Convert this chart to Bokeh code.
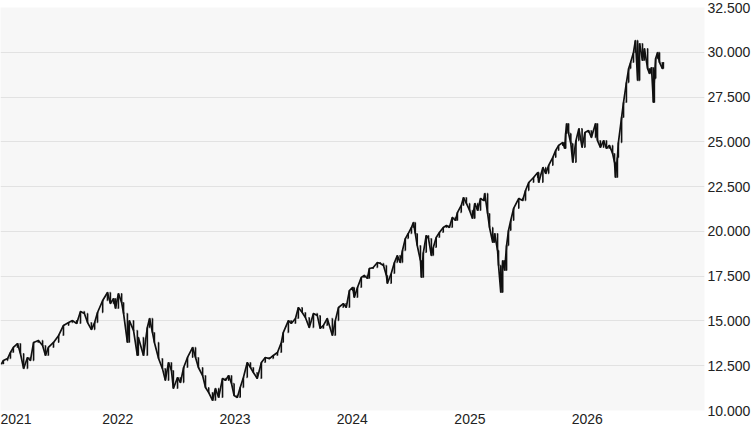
import pandas as pd
from bokeh.plotting import figure
from bokeh.models import FixedTicker, CustomJSTickFormatter, ColumnDataSource, Range1d
from bokeh.embed import file_html
from bokeh.resources import INLINE

# ---- data (approximate closes) ----
dates = [
    "2021-01-04", "2021-01-10", "2021-01-23", "2021-02-01", "2021-02-10", "2021-02-23", "2021-03-04",
    "2021-03-14", "2021-03-26", "2021-04-04", "2021-04-14", "2021-04-29", "2021-05-12", "2021-05-21",
    "2021-05-30", "2021-06-15", "2021-07-01", "2021-07-16", "2021-08-01", "2021-08-13", "2021-08-26",
    "2021-09-07", "2021-09-19", "2021-09-29", "2021-10-11", "2021-10-21", "2021-10-30", "2021-11-15",
    "2021-11-30", "2021-12-09", "2021-12-19", "2021-12-25",
    "2022-01-03", "2022-01-13", "2022-01-19", "2022-01-31", "2022-02-06", "2022-02-19", "2022-03-03",
    "2022-03-06", "2022-03-22", "2022-04-03", "2022-04-10", "2022-04-19", "2022-04-25", "2022-05-08",
    "2022-05-20", "2022-05-29", "2022-06-08", "2022-06-17", "2022-06-23", "2022-07-06", "2022-07-15",
    "2022-07-25", "2022-08-06", "2022-08-22", "2022-08-31", "2022-09-09", "2022-09-22", "2022-10-01",
    "2022-10-11", "2022-10-23", "2022-11-01", "2022-11-11", "2022-11-23", "2022-12-02", "2022-12-12",
    "2022-12-21", "2022-12-29",
    "2023-01-08", "2023-01-17", "2023-01-27", "2023-02-08", "2023-02-18", "2023-02-27", "2023-03-11",
    "2023-03-24", "2023-04-05", "2023-04-18", "2023-04-30", "2023-05-13", "2023-05-25", "2023-05-31",
    "2023-06-16", "2023-06-25", "2023-07-08", "2023-07-17", "2023-07-29", "2023-08-08", "2023-08-20",
    "2023-09-02", "2023-09-14", "2023-09-23", "2023-10-03", "2023-10-15", "2023-10-31", "2023-11-09",
    "2023-11-19", "2023-12-04", "2023-12-13", "2023-12-23",
    "2024-01-02", "2024-01-07", "2024-01-17", "2024-01-29", "2024-02-07", "2024-02-17", "2024-02-23",
    "2024-03-06", "2024-03-19", "2024-03-28", "2024-04-07", "2024-04-16", "2024-04-19", "2024-05-01",
    "2024-05-11", "2024-05-20", "2024-05-29", "2024-06-05", "2024-06-14", "2024-06-23", "2024-07-03",
    "2024-07-09", "2024-07-15", "2024-07-21", "2024-07-31", "2024-08-03", "2024-08-09", "2024-08-18",
    "2024-08-25", "2024-09-03", "2024-09-09", "2024-09-18", "2024-09-28", "2024-10-10", "2024-10-20",
    "2024-10-29", "2024-11-07", "2024-11-17", "2024-11-23", "2024-12-05", "2024-12-12", "2024-12-21",
    "2024-12-31",
    "2025-01-09", "2025-01-16", "2025-01-25", "2025-02-03", "2025-02-13", "2025-02-16", "2025-02-25",
    "2025-03-03", "2025-03-13", "2025-03-19", "2025-03-28", "2025-03-31", "2025-04-07", "2025-04-13",
    "2025-04-19", "2025-04-25", "2025-05-01", "2025-05-08", "2025-05-17", "2025-06-02", "2025-06-14",
    "2025-06-23", "2025-07-03", "2025-07-18", "2025-07-31", "2025-08-03", "2025-08-16", "2025-08-25",
    "2025-09-03", "2025-09-16", "2025-09-25", "2025-10-04", "2025-10-17", "2025-10-23", "2025-10-26",
    "2025-10-29", "2025-11-04", "2025-11-11", "2025-11-17", "2025-11-27", "2025-12-06", "2025-12-16",
    "2025-12-25",
    "2026-01-05", "2026-01-14", "2026-01-27", "2026-02-02", "2026-02-11", "2026-02-21", "2026-03-02",
    "2026-03-11", "2026-03-21", "2026-03-27", "2026-03-30", "2026-04-05", "2026-04-08", "2026-04-18",
    "2026-04-24", "2026-05-03", "2026-05-10", "2026-05-16", "2026-05-25", "2026-05-31", "2026-06-07",
    "2026-06-13", "2026-06-22", "2026-06-28", "2026-07-08", "2026-07-14", "2026-07-20", "2026-07-26",
    "2026-07-29", "2026-08-02", "2026-08-08", "2026-08-14", "2026-08-23", "2026-08-26",
]

closes = [
    12600, 12790, 12900, 13240, 13520, 13740, 13180,
    12340, 12960, 12790, 13800, 13910, 13630, 13070,
    13520, 13800, 14190, 14750, 14910, 15020, 14860,
    15530, 15420, 14910, 14520, 14910, 15470, 16140,
    16590, 15970, 16250, 15700,
    16530, 16030, 15420, 13800, 15020, 14470, 13070,
    14080, 13070, 14630, 15140, 14350, 13800, 12900,
    12340, 11680, 12680, 12230, 11230, 11840, 11560,
    12400, 12960, 13520, 12960, 12400, 11950, 11280,
    11000, 10560, 11230, 10730, 11790, 11680, 11950,
    11510, 10840,
    10730, 11280, 11840, 12680, 12400, 12120, 11790,
    12680, 12960, 12900, 13070, 13240, 13800, 14350,
    15020, 14860, 15140, 15750, 15470, 15190, 14630,
    15420, 15300, 14580, 14750, 15140, 14190, 15020,
    15750, 15970, 15750, 16700,
    16870, 16310, 16870, 17430, 17540, 17370, 17930,
    17980, 18260, 18210, 18100, 17540, 17090, 17650,
    18260, 18650, 18260, 18930, 19600, 19880, 20220,
    20500, 19880, 19210, 18370, 17430, 18820, 19770,
    19600, 18650, 19100, 19660, 19940, 20220, 20330,
    20220, 20780, 20610, 21050, 21450, 21890, 21560,
    21170,
    20720, 21560, 21170, 21840, 21720, 22120, 21000,
    20220, 19380, 19880, 18930, 18100, 16590, 18370,
    17820, 19210, 20050, 20610, 21280, 21840, 21720,
    22280, 22730, 23010, 23290, 22730, 23570, 23230,
    23680, 24130, 24520, 24800, 24960, 24630, 25470,
    26020, 25470, 24910, 23850, 25070, 25740, 24690,
    25520,
    25630, 25240, 26020, 25070, 24690, 25070, 24630,
    24800, 24350, 23850, 23010, 24130, 24960, 26360,
    27200, 28310, 29090, 29430, 29990, 30660, 28420,
    30490, 29540, 30210, 29090, 28810, 29150, 27200,
    28530, 29650, 29990, 29430, 29090, 29430,
]

tick_years = [2021, 2022, 2023, 2024, 2025, 2026]
y_ticks = [10000, 12500, 15000, 17500, 20000, 22500, 25000, 27500, 30000, 32500]

# ---- build OHLC-style bars from the closes ----
x = pd.to_datetime(dates)
opens = [closes[0]] + closes[:-1]
highs = [max(o, c) for o, c in zip(opens, closes)]
lows = [min(o, c) for o, c in zip(opens, closes)]
half = pd.Timedelta(days=2)
src = ColumnDataSource(dict(
    x=x, xl=x - half, xr=x + half,
    o=opens, c=closes, h=highs, l=lows,
))

p = figure(
    width=753, height=430,
    x_axis_type="datetime", y_axis_location="right",
    x_range=Range1d(pd.Timestamp("2021-01-01"), pd.Timestamp("2027-01-01")),
    y_range=Range1d(10000, 32500),
    output_backend="svg", toolbar_location=None,
    min_border_left=0, min_border_top=7, min_border_right=0, min_border_bottom=20,
)
p.background_fill_color = "#f7f7f7"
p.border_fill_color = "white"
p.outline_line_color = None

bar_color = "#111111"
p.line("x", "c", source=src, line_color=bar_color, line_width=1.7)
p.segment("x", "l", "x", "h", source=src, line_color=bar_color, line_width=1.6)
p.segment("xl", "o", "x", "o", source=src, line_color=bar_color, line_width=1.2)
p.segment("x", "c", "xr", "c", source=src, line_color=bar_color, line_width=1.2)

# grid (horizontal only)
p.xgrid.grid_line_color = None
p.ygrid.grid_line_color = "#e2e2e2"
p.ygrid.grid_line_width = 1

# y axis (right)
p.yaxis.ticker = FixedTicker(ticks=y_ticks)
p.yaxis.formatter = CustomJSTickFormatter(code="""
    return Math.round(tick).toString().replace(/\\B(?=(\\d{3})+(?!\\d))/g, ".");
""")
for ax in (p.xaxis[0], p.yaxis[0]):
    ax.axis_line_color = None
    ax.major_tick_line_color = None
    ax.minor_tick_line_color = None
    ax.major_tick_out = 0
    ax.major_tick_in = 0
    ax.minor_tick_out = 0
    ax.minor_tick_in = 0
    ax.major_label_text_font = "Liberation Sans"
    ax.major_label_text_font_size = "14px"
    ax.major_label_text_color = "#222222"
p.yaxis.major_label_standoff = 3

# x axis (below)
year_ticks = [pd.Timestamp(f"{yr}-01-01").value // 10**6 for yr in tick_years]
p.xaxis.ticker = FixedTicker(ticks=year_ticks)
p.xaxis.major_label_overrides = {t: str(yr) for t, yr in zip(year_ticks, tick_years)}
p.xaxis.major_label_standoff = 3
p.xaxis.major_label_text_align = "left"

open("out.html", "w").write(file_html(p, INLINE))
